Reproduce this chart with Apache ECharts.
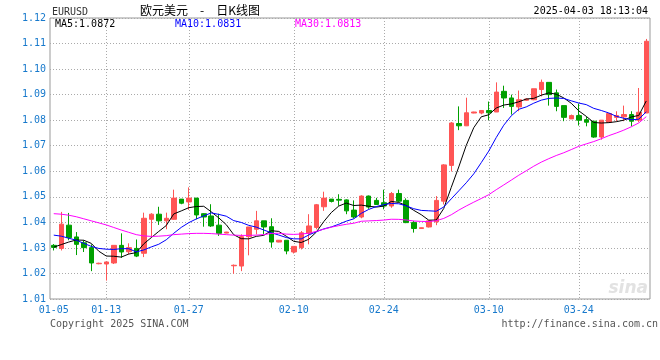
<!DOCTYPE html>
<html><head><meta charset="utf-8">
<script src="https://cdn.jsdelivr.net/npm/echarts/dist/echarts.min.js"></script>
<style>html,body{margin:0;padding:0;background:#fff}#c{width:660px;height:360px}</style>
</head><body><div id="c"></div>
<script>
const dates = ['01-05',
 '01-06','01-07','01-08','01-09','01-10','01-11',
 '01-13','01-14','01-15','01-16','01-17','01-18',
 '01-20','01-21','01-22','01-23','01-24',
 '01-27','01-28','01-29','01-30','01-31','02-01','02-02',
 '02-03','02-04','02-05','02-06','02-07','02-08','02-09',
 '02-10','02-11','02-12','02-13','02-14','02-15',
 '02-17','02-18','02-19','02-20','02-21','02-22',
 '02-24','02-25','02-26','02-27','02-28','03-01','03-02',
 '03-03','03-04','03-05','03-06','03-07','03-08','03-09',
 '03-10','03-11','03-12','03-13','03-14','03-15',
 '03-17','03-18','03-19','03-20','03-21','03-22',
 '03-24','03-25','03-26','03-27','03-28','03-29',
 '03-31','04-01','04-02','04-03'];
const opens = [1.0310,1.0298,1.0389,1.0343,1.0320,1.0301,1.0238,1.0237,1.0241,1.0310,
 1.0285,1.0298,1.0279,1.0412,1.0432,1.0406,1.0412,1.0491,1.0480,1.0495,
 1.0434,1.0425,1.0389,1.0358,1.0230,1.0229,1.0344,1.0373,1.0406,1.0383,
 1.0323,1.0330,1.0284,1.0301,1.0357,1.0380,1.0461,1.0491,1.0490,1.0488,
 1.0448,1.0421,1.0503,1.0486,1.0477,1.0464,1.0513,1.0486,1.0399,1.0376,
 1.0382,1.0402,1.0483,1.0623,1.0787,1.0778,1.0828,1.0828,1.0838,1.0832,
 1.0913,1.0887,1.0852,1.0878,1.0880,1.0920,1.0948,1.0907,1.0857,1.0805,
 1.0818,1.0802,1.0796,1.0734,1.0792,1.0811,1.0813,1.0822,1.0800,1.0828];
const closes = [1.0302,1.0393,1.0340,1.0314,1.0301,1.0241,1.0240,1.0245,1.0310,1.0284,
 1.0301,1.0268,1.0416,1.0432,1.0406,1.0416,1.0495,1.0475,1.0495,1.0429,
 1.0421,1.0386,1.0357,1.0362,1.0232,1.0344,1.0382,1.0406,1.0382,1.0323,
 1.0330,1.0288,1.0306,1.0359,1.0386,1.0469,1.0495,1.0482,1.0487,1.0445,
 1.0421,1.0503,1.0460,1.0470,1.0464,1.0513,1.0483,1.0399,1.0376,1.0379,
 1.0406,1.0486,1.0625,1.0789,1.0778,1.0829,1.0832,1.0838,1.0829,1.0910,
 1.0887,1.0854,1.0880,1.0883,1.0923,1.0948,1.0900,1.0854,1.0811,1.0818,
 1.0800,1.0792,1.0734,1.0800,1.0826,1.0818,1.0822,1.0796,1.0831,1.1109];
const lows = [1.0290,1.0290,1.0330,1.0272,1.0284,1.0209,1.0236,1.0172,1.0237,1.0261,
 1.0275,1.0264,1.0264,1.0343,1.0390,1.0373,1.0410,1.0471,1.0449,1.0412,
 1.0383,1.0382,1.0347,1.0357,1.0199,1.0209,1.0271,1.0353,1.0353,1.0301,
 1.0322,1.0275,1.0278,1.0294,1.0314,1.0373,1.0445,1.0478,1.0465,1.0432,
 1.0415,1.0416,1.0453,1.0468,1.0451,1.0457,1.0479,1.0397,1.0360,1.0375,
 1.0380,1.0389,1.0470,1.0599,1.0761,1.0777,1.0827,1.0823,1.0800,1.0832,
 1.0848,1.0822,1.0835,1.0876,1.0878,1.0893,1.0857,1.0835,1.0796,1.0805,
 1.0779,1.0776,1.0731,1.0724,1.0789,1.0796,1.0796,1.0776,1.0792,1.0828];
const highs = [1.0315,1.0441,1.0437,1.0362,1.0330,1.0314,1.0242,1.0246,1.0310,1.0357,
 1.0318,1.0333,1.0438,1.0436,1.0461,1.0438,1.0528,1.0491,1.0537,1.0495,
 1.0436,1.0471,1.0434,1.0363,1.0235,1.0353,1.0382,1.0445,1.0406,1.0416,
 1.0331,1.0330,1.0306,1.0366,1.0432,1.0472,1.0520,1.0491,1.0510,1.0490,
 1.0486,1.0506,1.0505,1.0496,1.0528,1.0519,1.0528,1.0494,1.0406,1.0380,
 1.0406,1.0503,1.0628,1.0793,1.0854,1.0888,1.0833,1.0838,1.0873,1.0948,
 1.0935,1.0900,1.0916,1.0886,1.0923,1.0959,1.0948,1.0920,1.0857,1.0822,
 1.0865,1.0813,1.0796,1.0800,1.0828,1.0835,1.0857,1.0835,1.0926,1.1118];
// MA values before enough visible closes exist
const ma5Head = [1.0303,1.0313,1.0323,1.0331];
const ma10Head = [1.0350,1.0346,1.0338,1.0330,1.0318,1.0306,1.0298,1.0295,1.0294];
const ma30Head = [1.0434,1.0432,1.0428,1.0422,1.0414,1.0406,1.0398,1.0390,1.0380,1.0370,
 1.0361,1.0352,1.0347,1.0345,1.0346,1.0348,1.0352,1.0354,1.0356,1.0357,
 1.0357,1.0356,1.0354,1.0352,1.0350,1.0349,1.0349,1.0350,1.0352];
const tickDates = ['01-05','01-13','01-27','02-10','02-24','03-10','03-24'];
const maNames = ['MA5','MA10','MA30'];
const maLatest = ['1.0872','1.0831','1.0813'];
const yMin = 1.01, yMax = 1.12, yStep = 0.01;

function movingAverage(n, head) {
  const out = head.slice();
  for (let i = head.length; i < closes.length; i++) {
    let s = 0;
    for (let j = i - n + 1; j <= i; j++) s += closes[j];
    out.push(+(s / n).toFixed(5));
  }
  return out;
}
const kData = dates.map((d, i) => [opens[i], closes[i], lows[i], highs[i]]);
const mono = 'DejaVu Sans Mono';
const blue = '#1779cc';
const upC = '#ff5555', downC = '#00a000';
const maColors = ['#000000', '#0000ff', '#ff00ff'];
const maSeries = [movingAverage(5, ma5Head), movingAverage(10, ma10Head), movingAverage(30, ma30Head)];

const chart = echarts.init(document.getElementById('c'));
chart.setOption({
  animation: false,
  backgroundColor: '#fff',
  grid: {left: 50, right: 10, top: 18, bottom: 61, show: true, borderColor: '#999', borderWidth: 1},
  xAxis: {
    type: 'category', data: dates, boundaryGap: true,
    axisLine: {show: false}, axisTick: {show: false},
    axisLabel: {interval: (i, v) => tickDates.includes(v), color: blue, fontFamily: mono, fontSize: 10, margin: 6},
    splitLine: {show: true, alignWithLabel: true, interval: (i, v) => i > 0 && tickDates.includes(v),
      lineStyle: {color: '#aaa', type: [1, 2], width: 1}}
  },
  yAxis: {
    type: 'value', min: yMin, max: yMax, interval: yStep,
    axisLine: {show: false}, axisTick: {show: false},
    axisLabel: {formatter: v => v.toFixed(2), color: blue, fontFamily: mono, fontSize: 10, margin: 4},
    splitLine: {lineStyle: {color: '#aaa', type: [1, 2], width: 1}}
  },
  series: [
    {type: 'candlestick', data: kData, barWidth: 5,
      itemStyle: {color: upC, color0: downC, borderColor: upC, borderColor0: downC, borderWidth: 1}},
  ].concat(maSeries.map((d, k) => ({
    type: 'line', name: maNames[k], data: d, symbol: 'none', smooth: false,
    lineStyle: {color: maColors[k], width: 1}, z: 3
  }))),
  graphic: [
    {type: 'text', x: 52, y: 12, style: {text: 'EURUSD', fill: '#333', font: '10px ' + mono, verticalAlign: 'middle'}},
    {type: 'text', x: 140, y: 10, style: {text: '欧元美元　-　日K线图', fill: '#000', font: '12px "Noto Sans CJK SC"', verticalAlign: 'middle'}},
    {type: 'text', x: 648, y: 11, style: {text: '2025-04-03 18:13:04', fill: '#000', font: '10px ' + mono, align: 'right', verticalAlign: 'middle'}},
    {type: 'text', x: 55, y: 24, style: {text: maNames[0] + ':' + maLatest[0], fill: maColors[0], font: '10px ' + mono, verticalAlign: 'middle'}},
    {type: 'text', x: 175, y: 24, style: {text: maNames[1] + ':' + maLatest[1], fill: maColors[1], font: '10px ' + mono, verticalAlign: 'middle'}},
    {type: 'text', x: 295, y: 24, style: {text: maNames[2] + ':' + maLatest[2], fill: maColors[2], font: '10px ' + mono, verticalAlign: 'middle'}},
    {type: 'text', x: 648, y: 289, style: {text: 'sina', fill: '#e2e2e2', font: 'italic bold 17px "DejaVu Sans"', align: 'right', verticalAlign: 'middle'}},
    {type: 'text', x: 50, y: 324, style: {text: 'Copyright 2025 SINA.COM', fill: '#555', font: '10px ' + mono, verticalAlign: 'middle'}},
    {type: 'text', x: 658, y: 324, style: {text: 'http://finance.sina.com.cn', fill: '#555', font: '10px ' + mono, align: 'right', verticalAlign: 'middle'}}
  ]
});
</script></body></html>
